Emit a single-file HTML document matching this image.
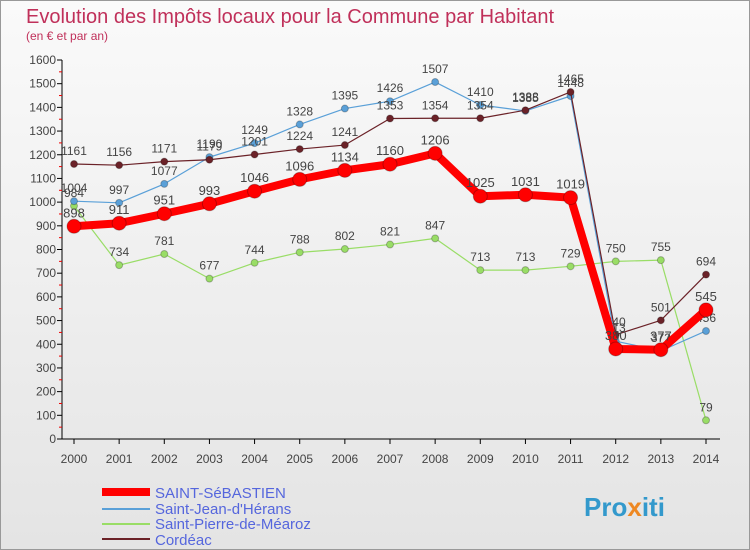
<!DOCTYPE html>
<html><head><meta charset="utf-8"><style>
body{margin:0;width:750px;height:550px;overflow:hidden;font-family:"Liberation Sans",sans-serif}
#wrap{position:absolute;left:0;top:0;width:748px;height:548px;border:1px solid #999;background:linear-gradient(#fafafa,#e4e4e4)}
</style></head><body>
<div id="wrap">
<svg id="chart" width="750" height="550" style="position:absolute;left:-1px;top:-1px">
<text x="26" y="23" font-size="20" fill="#c0305a">Evolution des Impôts locaux pour la Commune par Habitant</text>
<text x="26" y="40" font-size="12" fill="#c0305a">(en € et par an)</text>
<g id="axes"></g><g id="series"></g>
<g>
<line x1="102" y1="492" x2="150" y2="492" stroke="#f00" stroke-width="8"/>
<text x="155" y="498" font-size="15" fill="#5566dd">SAINT-SéBASTIEN</text>
<line x1="102" y1="509" x2="150" y2="509" stroke="#5aa0d8" stroke-width="2"/>
<text x="155" y="514" font-size="15" fill="#5566dd">Saint-Jean-d'Hérans</text>
<line x1="102" y1="524" x2="150" y2="524" stroke="#99dd66" stroke-width="2"/>
<text x="155" y="529" font-size="15" fill="#5566dd">Saint-Pierre-de-Méaroz</text>
<line x1="102" y1="539" x2="150" y2="539" stroke="#6b2228" stroke-width="2"/>
<text x="155" y="545" font-size="15" fill="#5566dd">Cordéac</text>
</g>
<text x="584" y="516" font-size="26" font-weight="bold" fill="#3399cc">Pro<tspan fill="#ee8822">x</tspan>iti</text>
</svg>
</div>
<script>
const years=[2000,2001,2002,2003,2004,2005,2006,2007,2008,2009,2010,2011,2012,2013,2014];
const ticks=[0,100,200,300,400,500,600,700,800,900,1000,1100,1200,1300,1400,1500,1600];
const sebastien=[898,911,951,993,1046,1096,1134,1160,1206,1025,1031,1019,380,377,545];
const jean=[1004,997,1077,1190,1249,1328,1395,1426,1507,1410,1385,1448,413,372,456];
const pierre=[984,734,781,677,744,788,802,821,847,713,713,729,750,755,79];
const cordeac=[1161,1156,1171,1179,1201,1224,1241,1353,1354,1354,1388,1465,440,501,694];
const NS="http://www.w3.org/2000/svg";
const xS=i=>74+i*(706-74)/(years.length-1);
const yS=v=>439-v*(379/1600);
function mk(t,a,p){const e=document.createElementNS(NS,t);for(const k in a)e.setAttribute(k,a[k]);p.appendChild(e);return e;}
const ax=document.getElementById('axes'),se=document.getElementById('series');
const yl=mk('line',{x1:62,y1:yS(1600),x2:62,y2:439,stroke:'#000'},ax);


const xl=mk('line',{x1:62,y1:439,x2:720,y2:439,stroke:'#000'},ax);


ticks.forEach(v=>{
 mk('line',{x1:57,y1:yS(v),x2:62,y2:yS(v),stroke:'#000'},ax);
 if(v<1600)mk('line',{x1:59,y1:yS(v+50),x2:62,y2:yS(v+50),stroke:'#e00'},ax);
 const t=mk('text',{x:56,y:yS(v)+4,'font-size':12,'text-anchor':'end',fill:'#444'},ax);t.textContent=v;
 
 
});
years.forEach((y,i)=>{
 mk('line',{x1:xS(i),y1:439,x2:xS(i),y2:444,stroke:'#000'},ax);
 const t=mk('text',{x:xS(i),y:463,'font-size':12,'text-anchor':'middle',fill:'#444'},ax);t.textContent=y;
 
 
});
function draw(data,color,w,r,name,fs){
 const g=mk('g',{},se);
 
 
 mk('polyline',{points:data.map((v,i)=>xS(i)+','+yS(v)).join(' '),fill:'none',stroke:color,'stroke-width':w,'stroke-linejoin':'round'},g);
 data.forEach((v,i)=>{
  const c=mk('circle',{cx:xS(i),cy:yS(v),r:r,fill:color,stroke:'rgba(0,0,0,0.25)','stroke-width':1},g);
  
  
  const t=mk('text',{x:xS(i),y:yS(v)-9,'font-size':fs,'text-anchor':'middle',fill:'#444'},g);t.textContent=v;
  
  
 });
}
draw(pierre,'#99dd66',1.2,3.5,'series-saint-pierre',12);
draw(jean,'#5aa0d8',1.2,3.5,'series-saint-jean',12);
draw(cordeac,'#6b2228',1.2,3.5,'series-cordeac',12);
draw(sebastien,'#ff0000',8,7,'series-saint-sebastien',13);
</script>
</body></html>
